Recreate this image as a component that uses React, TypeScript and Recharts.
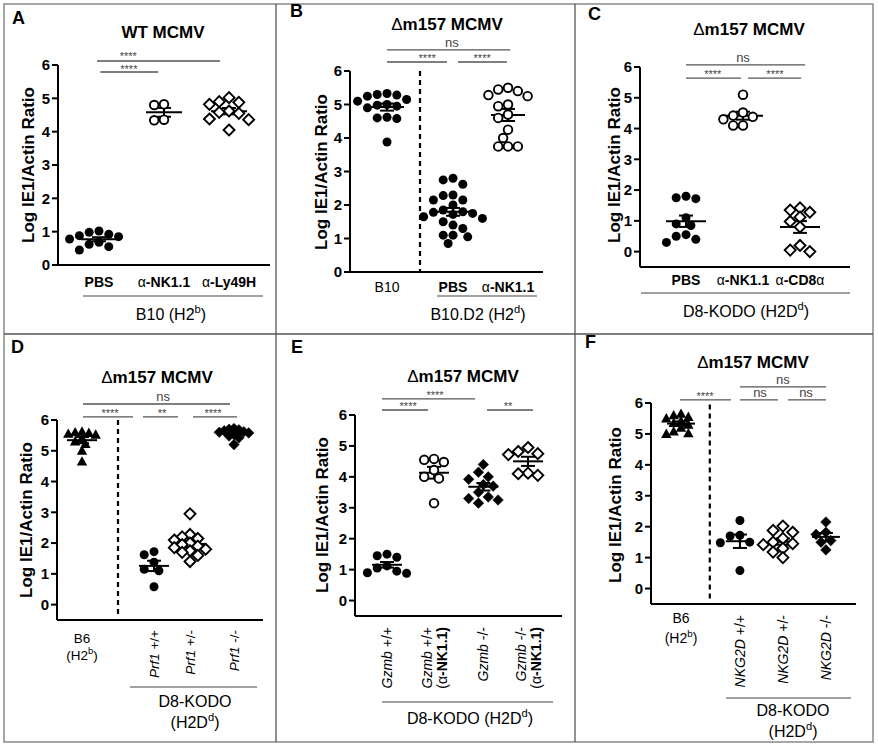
import React from 'react';
import { ScatterChart, Scatter, XAxis, YAxis, ReferenceLine, ReferenceDot } from 'recharts';

const FONT = '"Liberation Sans", Arial, Helvetica, sans-serif';

// Log IE1/Actin ratio per mouse
const A_PBS = [1.02, 0.98, 0.92, 0.88, 0.85, 0.78, 0.68, 0.62, 0.55, 0.45];
const A_NK11 = [4.82, 4.8, 4.36, 4.34];
const A_LY49H = [5.02, 4.9, 4.88, 4.82, 4.62, 4.58, 4.55, 4.38, 4.36, 4.05];

const B_B10 = [5.33, 5.3, 5.28, 5.25, 5.15, 5.1, 5.0, 4.98, 4.95, 4.9, 4.62, 4.6, 4.58, 3.88];
const B_PBS = [2.8, 2.75, 2.62, 2.3, 2.28, 2.15, 2.15, 2.0, 1.85, 1.8, 1.78, 1.75, 1.72, 1.65, 1.6, 1.5, 1.4, 1.3, 1.1, 1.1, 1.05, 0.85];
const B_NK11 = [5.5, 5.45, 5.4, 5.28, 5.25, 5.0, 4.95, 4.7, 4.6, 4.25, 4.0, 3.75, 3.75, 3.75];

const C_PBS = [1.8, 1.75, 1.72, 1.1, 0.9, 0.85, 0.55, 0.5, 0.4, 0.3];
const C_NK11 = [5.1, 4.52, 4.42, 4.38, 4.3, 4.1, 4.1];
const C_CD8 = [1.42, 1.35, 1.28, 1.12, 0.98, 0.8, 0.2, 0.05, 0.0];

const D_B6 = [5.62, 5.6, 5.58, 5.55, 5.52, 5.4, 5.3, 5.22, 5.0, 4.65];
const D_PRF_WT = [1.72, 1.62, 1.38, 1.15, 1.1, 0.58];
const D_PRF_HET = [2.95, 2.28, 2.2, 2.15, 2.1, 2.0, 1.95, 1.9, 1.85, 1.8, 1.75, 1.7, 1.6, 1.4];
const D_PRF_KO = [5.72, 5.7, 5.68, 5.65, 5.62, 5.6, 5.58, 5.52, 5.48, 5.42, 5.2];

const E_GZMB_WT = [1.5, 1.45, 1.4, 1.12, 1.05, 0.95, 0.9, 0.88];
const E_GZMB_WT_NK = [4.58, 4.55, 4.48, 4.22, 4.0, 3.95, 3.15];
const E_GZMB_KO = [4.4, 4.15, 4.0, 3.92, 3.75, 3.7, 3.5, 3.35, 3.3, 3.25, 3.15];
const E_GZMB_KO_NK = [4.95, 4.82, 4.75, 4.72, 4.12, 4.1, 4.05];

const F_B6 = [5.65, 5.6, 5.55, 5.5, 5.42, 5.35, 5.3, 5.2, 5.08, 5.02, 5.0];
const F_NKG2D_WT = [2.2, 1.72, 1.7, 1.5, 1.48, 0.58];
const F_NKG2D_HET = [2.02, 1.88, 1.82, 1.62, 1.5, 1.45, 1.42, 1.3, 1.18, 1.0];
const F_NKG2D_KO = [2.15, 1.82, 1.75, 1.55, 1.5, 1.25];

const Y_TICKS = [0, 1, 2, 3, 4, 5, 6];

type Seg = { t: string; b?: boolean; i?: boolean; sup?: boolean };
type Label = { rot?: boolean; lines: Seg[][] };
type Sig = { x1: number; x2: number; y: number; t: string; tx: number; off?: number };
type MarkerKind = 'dot' | 'ring' | 'diamond' | 'fdiamond' | 'tri';

const alpha = (rest: string): Seg[] => [{ t: 'α' }, { t: rest, b: true }];
const h2 = (pre: string, s: string): Seg[] => [{ t: pre + ' (H2' }, { t: s, sup: true }, { t: ')' }];
const b6Label: Label = { lines: [[{ t: 'B6' }], [{ t: '(H2' }, { t: 'b', sup: true }, { t: ')' }]] };
const rotLabel = (gene: string, gt: string, nk = false): Label => ({
  rot: true,
  lines: nk
    ? [[{ t: gene, i: true }, { t: ' ' + gt }], [{ t: '(α' }, { t: '-NK1.1)', b: true }]]
    : [[{ t: gene, i: true }, { t: ' ' + gt }]],
});

const PANELS = [
  {
    id: 'A', cell: [4, 4, 272, 330], yAxisW: 54, mRight: 6, mTop: 61, xAxisH: 69,
    xDomain: [0.37, 3.63], yDomain: [0, 6], meanHalf: 18,
    groups: [
      { slot: 1, values: A_PBS, m: 'dot' },
      { slot: 2, values: A_NK11, m: 'ring' },
      { slot: 3, values: A_LY49H, m: 'diamond' },
    ],
    labels: [{ lines: [[{ t: 'PBS', b: true }]] }, { lines: [alpha('-NK1.1')] }, { lines: [alpha('-Ly49H')] }],
    labelDy: 22, lineGap: 17, rotOff: 10, fs: 14,
    sig: [
      { x1: 0.97, x2: 2.86, y: 6.12, t: '****', tx: 1.45, off: 1 },
      { x1: 1.02, x2: 1.91, y: 5.79, t: '****', tx: 1.46, off: -1.5 },
    ],
  },
  {
    id: 'B', cell: [276, 4, 299, 330], yAxisW: 74, mRight: 32, mTop: 67, xAxisH: 62,
    xDomain: [0.327, 3.836], yDomain: [0, 6], meanHalf: 17,
    groups: [
      { slot: 1, values: B_B10, m: 'dot' },
      { slot: 2.2, values: B_PBS, m: 'dot' },
      { slot: 3.2, values: B_NK11, m: 'ring' },
    ],
    labels: [{ lines: [[{ t: 'B10' }]] }, { lines: [[{ t: 'PBS', b: true }]] }, { lines: [alpha('-NK1.1')] }],
    labelDy: 20, lineGap: 17, rotOff: 10, fs: 14,
    dashed: { x: 1.6, y1: 6, y2: 0 },
    sig: [
      { x1: 1.0, x2: 3.24, y: 6.63, t: 'ns', tx: 2.18 },
      { x1: 1.0, x2: 2.09, y: 6.27, t: '****', tx: 1.73 },
      { x1: 2.29, x2: 3.18, y: 6.27, t: '****', tx: 2.73 },
    ],
  },
  {
    id: 'C', cell: [575, 4, 298, 330], yAxisW: 65, mRight: 23, mTop: 63, xAxisH: 67,
    xDomain: [0.193, 3.877], yDomain: [-0.5, 6], meanHalf: 20,
    groups: [
      { slot: 1, values: C_PBS, m: 'dot' },
      { slot: 2, values: C_NK11, m: 'ring' },
      { slot: 3, values: C_CD8, m: 'diamond' },
    ],
    labels: [{ lines: [[{ t: 'PBS', b: true }]] }, { lines: [alpha('-NK1.1')] }, { lines: [[{ t: 'α' }, { t: '-CD8', b: true }, { t: 'α' }]] }],
    labelDy: 18, lineGap: 17, rotOff: 10, fs: 14,
    sig: [
      { x1: 1.0, x2: 3.09, y: 6.07, t: 'ns', tx: 2.0 },
      { x1: 1.0, x2: 1.965, y: 5.64, t: '****', tx: 1.47 },
      { x1: 2.09, x2: 3.02, y: 5.64, t: '****', tx: 2.56 },
    ],
  },
  {
    id: 'D', cell: [4, 334, 272, 408], yAxisW: 53, mRight: 13, mTop: 86, xAxisH: 122,
    xDomain: [0.375, 5.525], yDomain: [-0.5, 6], meanHalf: 15,
    groups: [
      { slot: 1, values: D_B6, m: 'tri', pack: 0.7 },
      { slot: 2.8, values: D_PRF_WT, m: 'dot' },
      { slot: 3.7, values: D_PRF_HET, m: 'diamond', pack: 0.8 },
      { slot: 4.8, values: D_PRF_KO, m: 'fdiamond', pack: 0.5 },
    ],
    labels: [b6Label, rotLabel('Prf1', '+/+'), rotLabel('Prf1', '+/-'), rotLabel('Prf1', '-/-')],
    labelDy: 23, lineGap: 17, rotOff: 10, fs: 13.5,
    dashed: { x: 1.9, y1: 6, y2: -0.35 },
    sig: [
      { x1: 1.025, x2: 4.7, y: 6.52, t: 'ns', tx: 3.03 },
      { x1: 1.025, x2: 2.275, y: 6.1, t: '****', tx: 1.7 },
      { x1: 2.525, x2: 3.4, y: 6.1, t: '**', tx: 3.0 },
      { x1: 3.775, x2: 4.875, y: 6.1, t: '****', tx: 4.275 },
    ],
  },
  {
    id: 'E', cell: [276, 334, 299, 408], yAxisW: 79, mRight: 13, mTop: 81, xAxisH: 126,
    xDomain: [0.319, 4.723], yDomain: [-0.5, 6], meanHalf: 15,
    groups: [
      { slot: 1, values: E_GZMB_WT, m: 'dot' },
      { slot: 2, values: E_GZMB_WT_NK, m: 'ring' },
      { slot: 3.05, values: E_GZMB_KO, m: 'fdiamond' },
      { slot: 4, values: E_GZMB_KO_NK, m: 'diamond' },
    ],
    labels: [rotLabel('Gzmb', '+/+'), rotLabel('Gzmb', '+/+', true), rotLabel('Gzmb', '-/-'), rotLabel('Gzmb', '-/-', true)],
    labelDy: 20, lineGap: 15, rotOff: 11, fs: 14,
    sig: [
      { x1: 0.893, x2: 2.872, y: 6.52, t: '****', tx: 2.02 },
      { x1: 0.893, x2: 1.872, y: 6.16, t: '****', tx: 1.45 },
      { x1: 3.127, x2: 4.106, y: 6.16, t: '**', tx: 3.574 },
    ],
  },
  {
    id: 'F', cell: [575, 334, 298, 408], yAxisW: 76, mRight: 17, mTop: 69, xAxisH: 138,
    xDomain: [0.302, 5.07], yDomain: [-0.5, 6], meanHalf: 14,
    groups: [
      { slot: 1, values: F_B6, m: 'tri', pack: 0.75 },
      { slot: 2.37, values: F_NKG2D_WT, m: 'dot' },
      { slot: 3.37, values: F_NKG2D_HET, m: 'diamond' },
      { slot: 4.37, values: F_NKG2D_KO, m: 'fdiamond' },
    ],
    labels: [b6Label, rotLabel('NKG2D', '+/+'), rotLabel('NKG2D', '+/-'), rotLabel('NKG2D', '-/-')],
    labelDy: 19, lineGap: 20, rotOff: 11, fs: 14,
    dashed: { x: 1.67, y1: 5.95, y2: -0.4 },
    sig: [
      { x1: 2.372, x2: 4.372, y: 6.52, t: 'ns', tx: 3.37 },
      { x1: 0.976, x2: 2.162, y: 6.1, t: '****', tx: 1.558 },
      { x1: 2.372, x2: 3.256, y: 6.1, t: 'ns', tx: 2.837 },
      { x1: 3.488, x2: 4.372, y: 6.1, t: 'ns', tx: 3.907 },
    ],
  },
];

// panel chrome drawn on top: letters, titles, axis titles, group brackets
const TITLES = [
  { id: 'A', lx: 12, ly: 24, tx: 163, ty: 38, virus: 'WT', yl: [28, 165] },
  { id: 'B', lx: 290, ly: 17, tx: 447, ty: 30, virus: 'Δ', yl: [321, 172] },
  { id: 'C', lx: 588, ly: 20, tx: 749, ty: 35, virus: 'Δ', yl: [614, 165] },
  { id: 'D', lx: 11, ly: 353, tx: 157, ty: 383, virus: 'Δ', yl: [26, 520] },
  { id: 'E', lx: 291, ly: 353, tx: 463, ty: 382, virus: 'Δ', yl: [322, 515] },
  { id: 'F', lx: 585, ly: 348, tx: 753, ty: 368, virus: 'Δ', yl: [615, 505] },
];

const BRACKETS = [
  { x1: 83, x2: 263, y: 296, cx: 171, lines: [h2('B10', 'b')], ty: 320 },
  { x1: 437, x2: 537, y: 296, cx: 478, lines: [h2('B10.D2', 'd')], ty: 320 },
  { x1: 641, x2: 850, y: 293, cx: 746, lines: [[{ t: 'D8-KODO (H2D' }, { t: 'd', sup: true }, { t: ')' }]], ty: 317 },
  { x1: 130, x2: 257, y: 687, cx: 195, lines: [[{ t: 'D8-KODO' }], [{ t: '(H2D' }, { t: 'd', sup: true }, { t: ')' }]], ty: 707 },
  { x1: 382, x2: 553, y: 702, cx: 470, lines: [[{ t: 'D8-KODO (H2D' }, { t: 'd', sup: true }, { t: ')' }]], ty: 724 },
  { x1: 726, x2: 851, y: 698, cx: 793, lines: [[{ t: 'D8-KODO' }], [{ t: '(H2D' }, { t: 'd', sup: true }, { t: ')' }]], ty: 716 },
];

function segs(list: Seg[], fs: number) {
  let up = false;
  return list.map((s, k) => {
    let dy: number | undefined;
    if (s.sup && !up) { dy = -fs * 0.42; up = true; }
    else if (!s.sup && up) { dy = fs * 0.42; up = false; }
    return (
      <tspan key={k} dy={dy} fontWeight={s.b ? 700 : 400} fontStyle={s.i ? 'italic' : 'normal'} fontSize={s.sup ? fs * 0.7 : fs}>
        {s.t}
      </tspan>
    );
  });
}

function mean(v: number[]) {
  return v.reduce((s, x) => s + x, 0) / v.length;
}
function sem(v: number[]) {
  const m = mean(v);
  const sd = Math.sqrt(v.reduce((s, x) => s + (x - m) ** 2, 0) / (v.length - 1));
  return sd / Math.sqrt(v.length);
}

// simple beeswarm so that dots don't pile up
function swarm(values: number[], slot: number, pxX: number, pxY: number, d: number, pack: number) {
  const order = values.map((_, i) => i).sort((a, b) => values[b] - values[a]);
  const placed: { dx: number; py: number }[] = [];
  const out: { x: number; y: number }[] = new Array(values.length);
  const minD = d * 0.92 * pack;
  for (const i of order) {
    const py = values[i] * pxY;
    let dx = 0;
    for (let k = 0; k < 60; k++) {
      const off = k === 0 ? 0 : (k % 2 ? -1 : 1) * Math.ceil(k / 2) * d * 0.5 * pack;
      if (placed.every(p => (p.dx - off) ** 2 + (p.py - py) ** 2 >= minD ** 2)) {
        dx = off;
        break;
      }
    }
    placed.push({ dx, py });
    out[i] = { x: slot + dx / pxX, y: values[i] };
  }
  return out;
}

function Marker({ cx, cy, kind }: { cx: number; cy: number; kind: MarkerKind }) {
  if (cx == null || cy == null) return null;
  if (kind === 'dot') return <circle cx={cx} cy={cy} r={4.5} fill="#000" />;
  if (kind === 'ring') return <circle cx={cx} cy={cy} r={4.3} fill="#fff" stroke="#000" strokeWidth={1.9} />;
  if (kind === 'tri') return <polygon points={`${cx},${cy - 5.4} ${cx + 5.2},${cy + 4} ${cx - 5.2},${cy + 4}`} fill="#000" />;
  const s = kind === 'diamond' ? 5.5 : 5.3;
  return (
    <polygon
      points={`${cx},${cy - s} ${cx + s},${cy} ${cx},${cy + s} ${cx - s},${cy}`}
      fill={kind === 'diamond' ? '#fff' : '#000'}
      stroke="#000"
      strokeWidth={kind === 'diamond' ? 1.9 : 0.5}
    />
  );
}

function Panel({ p }: { p: any }) {
  const [cl, ct, cw, ch] = p.cell;
  const plotW = cw - p.yAxisW - p.mRight;
  const plotH = ch - p.mTop - p.xAxisH;
  const pxX = plotW / (p.xDomain[1] - p.xDomain[0]);
  const pxY = plotH / (p.yDomain[1] - p.yDomain[0]);
  const hw = p.meanHalf / pxX;
  const cap = 7 / pxX;
  const slots = p.groups.map((g: any) => g.slot);

  const renderTick = (props: any) => {
    const { x, y, payload } = props;
    const idx = slots.indexOf(payload.value);
    const lab: Label = p.labels[idx];
    if (!lab) return <g />;
    if (lab.rot) {
      const n = lab.lines.length;
      return (
        <g transform={`translate(${x},${y}) rotate(-90)`}>
          {lab.lines.map((ln, i) => (
            <text key={i} x={-p.rotOff} y={(i - (n - 1) / 2) * p.lineGap + p.fs * 0.36} textAnchor="end" fill="#000" fontSize={p.fs}>
              {segs(ln, p.fs)}
            </text>
          ))}
        </g>
      );
    }
    return (
      <g>
        {lab.lines.map((ln, i) => (
          <text key={i} x={x} y={y + p.labelDy + i * p.lineGap} textAnchor="middle" fill="#000" fontSize={p.fs}>
            {segs(ln, p.fs)}
          </text>
        ))}
      </g>
    );
  };

  const stats = p.groups.map((g: any) => ({ slot: g.slot, m: mean(g.values), e: sem(g.values) }));

  return (
    <div style={{ position: 'absolute', left: cl, top: ct, width: cw, height: ch }}>
      <ScatterChart width={cw} height={ch} margin={{ top: p.mTop, right: p.mRight, bottom: 0, left: 0 }}>
        <XAxis
          type="number"
          dataKey="x"
          domain={p.xDomain}
          ticks={slots}
          interval={0}
          height={p.xAxisH}
          tickSize={0}
          tickMargin={0}
          tickLine={false}
          axisLine={{ stroke: '#000', strokeWidth: 2 }}
          tick={renderTick}
          allowDataOverflow
        />
        <YAxis
          type="number"
          dataKey="y"
          domain={p.yDomain}
          ticks={Y_TICKS}
          interval={0}
          width={p.yAxisW}
          tickSize={6}
          tickMargin={2}
          tickLine={{ stroke: '#000', strokeWidth: 2 }}
          axisLine={{ stroke: '#000', strokeWidth: 2 }}
          tick={{ fontSize: 15, fontWeight: 700, fill: '#000' }}
          allowDataOverflow
        />
        {p.groups.map((g: any, gi: number) => (
          <Scatter
            key={gi}
            data={swarm(g.values, g.slot, pxX, pxY, 9.8, g.pack ?? 1)}
            isAnimationActive={false}
            shape={(s: any) => <Marker cx={s.cx} cy={s.cy} kind={g.m} />}
          />
        ))}
        {stats.flatMap((s: any, i: number) => [
          <ReferenceLine key={`m${i}`} segment={[{ x: s.slot - hw, y: s.m }, { x: s.slot + hw, y: s.m }]} stroke="#000" strokeWidth={2} ifOverflow="visible" />,
          <ReferenceLine key={`v${i}`} segment={[{ x: s.slot, y: s.m - s.e }, { x: s.slot, y: s.m + s.e }]} stroke="#000" strokeWidth={2} ifOverflow="visible" />,
          <ReferenceLine key={`t${i}`} segment={[{ x: s.slot - cap, y: s.m + s.e }, { x: s.slot + cap, y: s.m + s.e }]} stroke="#000" strokeWidth={2} ifOverflow="visible" />,
          <ReferenceLine key={`b${i}`} segment={[{ x: s.slot - cap, y: s.m - s.e }, { x: s.slot + cap, y: s.m - s.e }]} stroke="#000" strokeWidth={2} ifOverflow="visible" />,
        ])}
        {p.dashed && (
          <ReferenceLine
            segment={[{ x: p.dashed.x, y: p.dashed.y1 }, { x: p.dashed.x, y: p.dashed.y2 }]}
            stroke="#000"
            strokeWidth={2.2}
            strokeDasharray="5 4"
            ifOverflow="visible"
          />
        )}
        {p.sig.flatMap((s: Sig, i: number) => [
          <ReferenceLine key={`s${i}`} segment={[{ x: s.x1, y: s.y }, { x: s.x2, y: s.y }]} stroke="#555" strokeWidth={1.4} ifOverflow="visible" />,
          <ReferenceDot
            key={`l${i}`}
            x={s.tx}
            y={s.y}
            r={0.1}
            fill="none"
            stroke="none"
            ifOverflow="visible"
            label={{
              value: s.t,
              position: 'top',
              offset: s.off ?? (s.t === 'ns' ? 3 : 0),
              fontSize: s.t === 'ns' ? 13 : 11,
              fill: '#444',
            }}
          />,
        ])}
      </ScatterChart>
    </div>
  );
}

export default function App() {
  return (
    <div style={{ position: 'absolute', left: 0, top: 0, width: 878, height: 747, background: '#fff', fontFamily: FONT }}>
      {PANELS.map(p => (
        <Panel key={p.id} p={p} />
      ))}
      <svg width={878} height={747} style={{ position: 'absolute', left: 0, top: 0, pointerEvents: 'none' }} fontFamily={FONT}>
        <rect x={4} y={4} width={869} height={738} fill="none" stroke="#777" strokeWidth={1.3} />
        <line x1={276} y1={4} x2={276} y2={742} stroke="#555" strokeWidth={1.3} />
        <line x1={575} y1={4} x2={575} y2={742} stroke="#555" strokeWidth={1.3} />
        <line x1={4} y1={334} x2={873} y2={334} stroke="#555" strokeWidth={1.3} />
        {TITLES.map(t => (
          <g key={t.id}>
            <text x={t.lx} y={t.ly} fontSize={18} fontWeight={700} fill="#000">{t.id}</text>
            <text x={t.tx} y={t.ty} fontSize={17} textAnchor="middle" fill="#000">
              {t.virus === 'WT' ? (
                <tspan fontWeight={700}>WT MCMV</tspan>
              ) : (
                <>
                  <tspan>Δ</tspan>
                  <tspan fontWeight={700}>m157 MCMV</tspan>
                </>
              )}
            </text>
            <text
              transform={`translate(${t.yl[0] + 6},${t.yl[1]}) rotate(-90)`}
              textAnchor="middle"
              fontSize={17}
              fontWeight={700}
              fill="#000"
            >
              Log IE1/Actin Ratio
            </text>
          </g>
        ))}
        {BRACKETS.map((b, i) => (
          <g key={i}>
            <line x1={b.x1} y1={b.y} x2={b.x2} y2={b.y} stroke="#444" strokeWidth={1.2} />
            {b.lines.map((ln, j) => (
              <text key={j} x={b.cx} y={b.ty + j * 21} textAnchor="middle" fontSize={16} fill="#000">
                {segs(ln, 16)}
              </text>
            ))}
          </g>
        ))}
      </svg>
    </div>
  );
}
